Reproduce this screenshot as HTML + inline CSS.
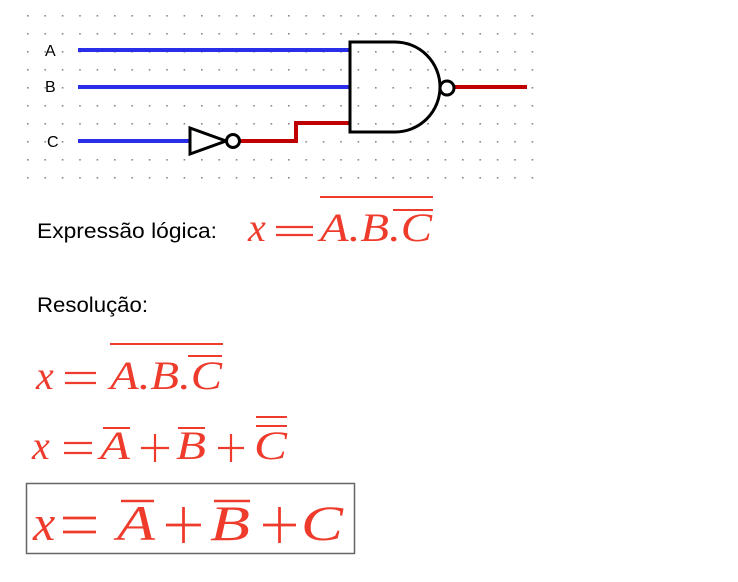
<!DOCTYPE html>
<html><head><meta charset="utf-8"><style>
html,body{margin:0;padding:0;background:#fff;width:738px;height:582px;overflow:hidden}
svg{display:block}
.m{font-family:"Liberation Serif",serif;font-style:italic;fill:#ee3b2c}
.t{font-family:"Liberation Sans",sans-serif;fill:#000}
</style></head><body>
<svg width="738" height="582" viewBox="0 0 738 582" xmlns="http://www.w3.org/2000/svg">
<defs><pattern id="d" x="27" y="15" width="17.4" height="18" patternUnits="userSpaceOnUse"><rect x="0" y="0" width="1.6" height="1.6" fill="#888"/></pattern></defs>
<rect x="26" y="14" width="522" height="166" fill="url(#d)"/>
<g class="t" font-size="16"><text x="45" y="56">A</text><text x="45" y="92">B</text><text x="47" y="147">C</text></g>
<g stroke="#2a2ee8" stroke-width="4"><line x1="78" y1="50" x2="350" y2="50"/><line x1="78" y1="87" x2="350" y2="87"/><line x1="78" y1="141" x2="192" y2="141"/></g>
<polyline points="240,141 296,141 296,123 350,123" fill="none" stroke="#c00000" stroke-width="4"/>
<line x1="454" y1="87" x2="527" y2="87" stroke="#c00000" stroke-width="4"/>
<path d="M350,42 H395 A45,45 0 0 1 395,132 H350 Z" fill="none" stroke="#000" stroke-width="3"/>
<circle cx="447" cy="88" r="7" fill="#fff" stroke="#000" stroke-width="3"/>
<polygon points="190,128 190,154 226,141" fill="#fff" stroke="#000" stroke-width="3"/>
<circle cx="233" cy="141" r="6.5" fill="#fff" stroke="#000" stroke-width="3"/>
<text class="t" x="37" y="238" font-size="21" textLength="180" lengthAdjust="spacingAndGlyphs">Expressão lógica:</text>
<text class="t" x="37" y="312" font-size="21" textLength="111" lengthAdjust="spacingAndGlyphs">Resolução:</text>
<g stroke="#ee3b2c" fill="none">
<!-- top eq -->
<g stroke-width="2.2"><line x1="276" y1="227" x2="313" y2="227"/><line x1="276" y1="235" x2="313" y2="235"/></g>
<g stroke-width="2"><line x1="320" y1="197" x2="433" y2="197"/><line x1="393" y1="210" x2="433" y2="210"/></g>
<!-- eq1 -->
<g stroke-width="2.2"><line x1="65" y1="373" x2="96" y2="373"/><line x1="65" y1="383" x2="96" y2="383"/></g>
<g stroke-width="2"><line x1="110" y1="344" x2="223" y2="344"/><line x1="188" y1="356" x2="222" y2="356"/></g>
<!-- eq2 -->
<g stroke-width="2.2"><line x1="64" y1="443" x2="92" y2="443"/><line x1="64" y1="453" x2="92" y2="453"/>
<line x1="141" y1="448" x2="169" y2="448"/><line x1="155" y1="434" x2="155" y2="462"/>
<line x1="218" y1="448" x2="244" y2="448"/><line x1="231" y1="434" x2="231" y2="462"/></g>
<g stroke-width="2"><line x1="103" y1="428" x2="130" y2="428"/><line x1="178" y1="428" x2="205" y2="428"/><line x1="256" y1="417" x2="287" y2="417"/><line x1="256" y1="426" x2="287" y2="426"/></g>
<!-- eq3 -->
<g stroke-width="2.8"><line x1="63" y1="518" x2="96" y2="518"/><line x1="63" y1="532" x2="96" y2="532"/>
<line x1="166" y1="525" x2="201" y2="525"/><line x1="183.5" y1="507" x2="183.5" y2="543"/>
<line x1="263" y1="525" x2="296" y2="525"/><line x1="279.5" y1="507" x2="279.5" y2="543"/></g>
<g stroke-width="2.5"><line x1="121" y1="501" x2="154" y2="501"/><line x1="214" y1="501" x2="250" y2="501"/></g>
</g>
<g class="m" font-size="40">
<text x="248" y="241">x</text><text x="320" y="241" textLength="112" lengthAdjust="spacingAndGlyphs">A.B.C</text>
<text x="36" y="389">x</text><text x="110" y="389" textLength="112" lengthAdjust="spacingAndGlyphs">A.B.C</text>
<text x="32" y="459">x</text><text x="100" y="459" textLength="30" lengthAdjust="spacingAndGlyphs">A</text><text x="176" y="459" textLength="30" lengthAdjust="spacingAndGlyphs">B</text><text x="254" y="459" textLength="33" lengthAdjust="spacingAndGlyphs">C</text>
</g>
<rect x="26.5" y="483.5" width="328" height="70" fill="none" stroke="#666" stroke-width="1.5"/>
<g class="m" font-size="50"><text x="33" y="540">x</text><text x="117" y="540" textLength="38" lengthAdjust="spacingAndGlyphs">A</text><text x="210" y="540" textLength="40" lengthAdjust="spacingAndGlyphs">B</text><text x="301" y="540" textLength="42" lengthAdjust="spacingAndGlyphs">C</text></g>
</svg>
</body></html>
